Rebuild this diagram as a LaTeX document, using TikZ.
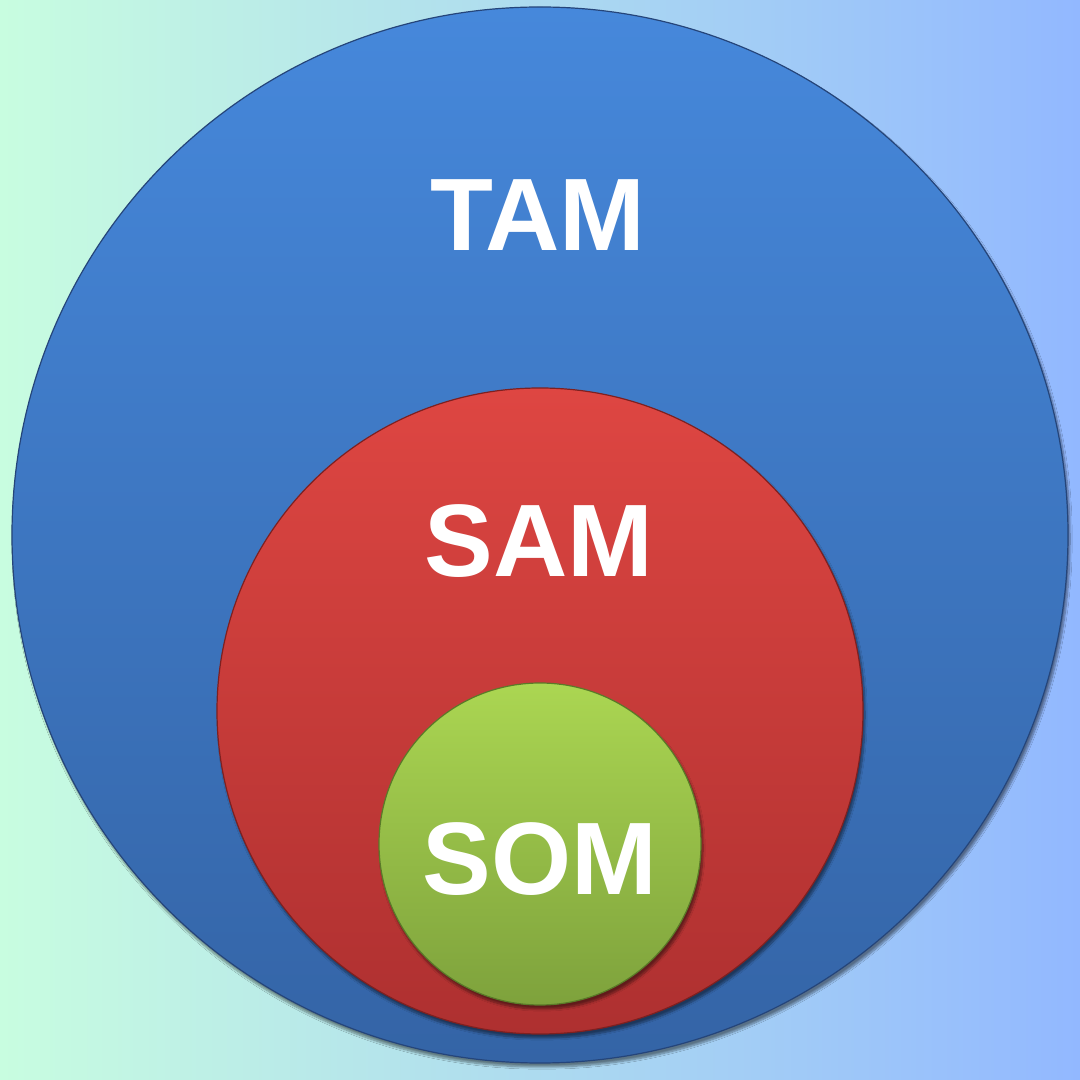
\documentclass[tikz,border=0pt]{standalone}
\usepackage{fontspec}
\setmainfont{Liberation Sans}
\usetikzlibrary{shadows.blur}
\definecolor{bgL}{HTML}{C8FDE0}
\definecolor{bgR}{HTML}{92B8FF}
\definecolor{blueT}{HTML}{4688DB}
\definecolor{blueB}{HTML}{3464A6}
\definecolor{blueE}{HTML}{25457A}
\definecolor{redT}{HTML}{DE4642}
\definecolor{redB}{HTML}{AE3030}
\definecolor{redE}{HTML}{7E2020}
\definecolor{greenT}{HTML}{ABD652}
\definecolor{greenB}{HTML}{7EA23C}
\definecolor{greenE}{HTML}{5A7A28}
\tikzset{
  ring/.style={circle, inner sep=0pt, line width=1.2pt,
    blur shadow={shadow xshift=2pt, shadow yshift=-4pt, shadow blur steps=8, shadow blur extra rounding=3pt, shadow opacity=45}},
  lbl/.style={text=white, font=\fontsize{103}{103}\selectfont\bfseries, inner sep=0pt}
}
\begin{document}
\begin{tikzpicture}[x=1pt,y=1pt]
\useasboundingbox (0,0) rectangle (1080,1080);
\shade[left color=bgL, right color=bgR] (0,0) rectangle (1080,1080);
\node[ring, minimum size=1056pt, top color=blueT, bottom color=blueB, draw=blueE] (tam) at (540,545) {};
\node[ring, minimum size=646pt, top color=redT, bottom color=redB, draw=redE] (sam) at (540,369) {};
\node[ring, minimum size=322pt, top color=greenT, bottom color=greenB, draw=greenE] (som) at (540,236) {};
\node[lbl] (tamt) at (538,865) {TAM};
\node[lbl] (samt) at (539,539) {SAM};
\node[lbl] (somt) at (540,221) {SOM};
\end{tikzpicture}
\end{document}
